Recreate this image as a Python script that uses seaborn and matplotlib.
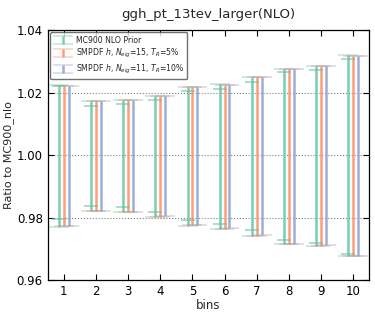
import numpy as np
import seaborn as sns
import matplotlib
matplotlib.use("Agg")
import matplotlib.pyplot as plt

bins = [1, 2, 3, 4, 5, 6, 7, 8, 9, 10]
labels = ["MC900 NLO Prior",
          r"SMPDF $h$, $N_{eig}$=15, $T_R$=5%",
          r"SMPDF $h$, $N_{eig}$=11, $T_R$=10%"]

# outer band (same for all three sets, read from the caps)
lo_main = [0.9771, 0.9821, 0.9817, 0.9803, 0.9774, 0.9765, 0.9742, 0.9716, 0.9710, 0.9676]
hi_main = [1.0223, 1.0173, 1.0176, 1.0190, 1.0219, 1.0227, 1.0251, 1.0277, 1.0285, 1.0319]
# inner caps of the prior
lo_prior = [0.9797, 0.9837, 0.9833, 0.9818, 0.9792, 0.9780, 0.9759, 0.9727, 0.9719, 0.9682]
hi_prior = [1.0220, 1.0157, 1.0163, 1.0176, 1.0204, 1.0213, 1.0235, 1.0267, 1.0274, 1.0308]
lo_sm15 = [0.9772, 0.9821, 0.9817, 0.9803, 0.9775, 0.9765, 0.9742, 0.9716, 0.9710, 0.9677]
hi_sm15 = [1.0221, 1.0172, 1.0175, 1.0189, 1.0218, 1.0226, 1.0250, 1.0276, 1.0284, 1.0318]
lo_sm11 = [0.9772, 0.9821, 0.9818, 0.9804, 0.9775, 0.9766, 0.9743, 0.9717, 0.9711, 0.9677]
hi_sm11 = [1.0221, 1.0172, 1.0175, 1.0189, 1.0218, 1.0226, 1.0250, 1.0276, 1.0284, 1.0318]

sns.set_style("ticks", {"xtick.direction": "in", "ytick.direction": "in",
                        "axes.grid": True, "grid.linestyle": ":",
                        "grid.color": "0.5"})
plt.rcParams["font.family"] = ["DejaVu Sans"]
colors = sns.color_palette("Set2", 3)

fig = plt.figure(figsize=(3.75, 3.14), dpi=100)
ax = fig.add_axes([0.127, 0.108, 0.858, 0.796])

x = np.array(bins, dtype=float)
offsets = [-0.15, 0.0, 0.15]
series = [(lo_main, hi_main), (lo_sm15, hi_sm15), (lo_sm11, hi_sm11)]
handles = []
for i, (lo, hi) in enumerate(series):
    lo = np.array(lo)
    hi = np.array(hi)
    mid = (lo + hi) / 2
    h = ax.errorbar(x + offsets[i], mid, yerr=[mid - lo, hi - mid], fmt="none",
                    ecolor=colors[i], elinewidth=1.8, capsize=7, capthick=1.3,
                    alpha=0.85, label=labels[i])
    for c in h[1]:
        c.set_alpha(0.35)
    handles.append(h)

lo = np.array(lo_prior)
hi = np.array(hi_prior)
mid = (lo + hi) / 2
h2 = ax.errorbar(x + offsets[0], mid, yerr=[mid - lo, hi - mid], fmt="none",
                 ecolor=colors[0], elinewidth=0, capsize=5, capthick=1.1, alpha=0.7)

ax.set_xlim(0.5, 10.5)
ax.set_ylim(0.96, 1.04)
ax.set_xticks(bins)
ax.set_yticks([0.96, 0.98, 1.00, 1.02, 1.04])
ax.set_yticklabels(["0.96", "0.98", "1.00", "1.02", "1.04"])
ax.xaxis.grid(False)
ax.tick_params(top=True, right=True, labelsize=8.5, length=4, width=0.8, colors="black")
for s in ax.spines.values():
    s.set_color("black")
    s.set_linewidth(0.9)
ax.set_xlabel("bins", fontsize=8.5, labelpad=1)
ax.set_ylabel("Ratio to MC900_nlo", fontsize=8, labelpad=2)
ax.set_title("ggh_pt_13tev_larger(NLO)", fontsize=9.5, pad=9)
leg = ax.legend(handles=handles, loc="upper left", fontsize=5.6, frameon=True,
                fancybox=True, handlelength=2.6, handletextpad=0.3, borderpad=0.4,
                labelspacing=0.35, borderaxespad=0.3)
leg.get_frame().set_edgecolor("0.3")

fig.savefig("out.png", dpi=100)
